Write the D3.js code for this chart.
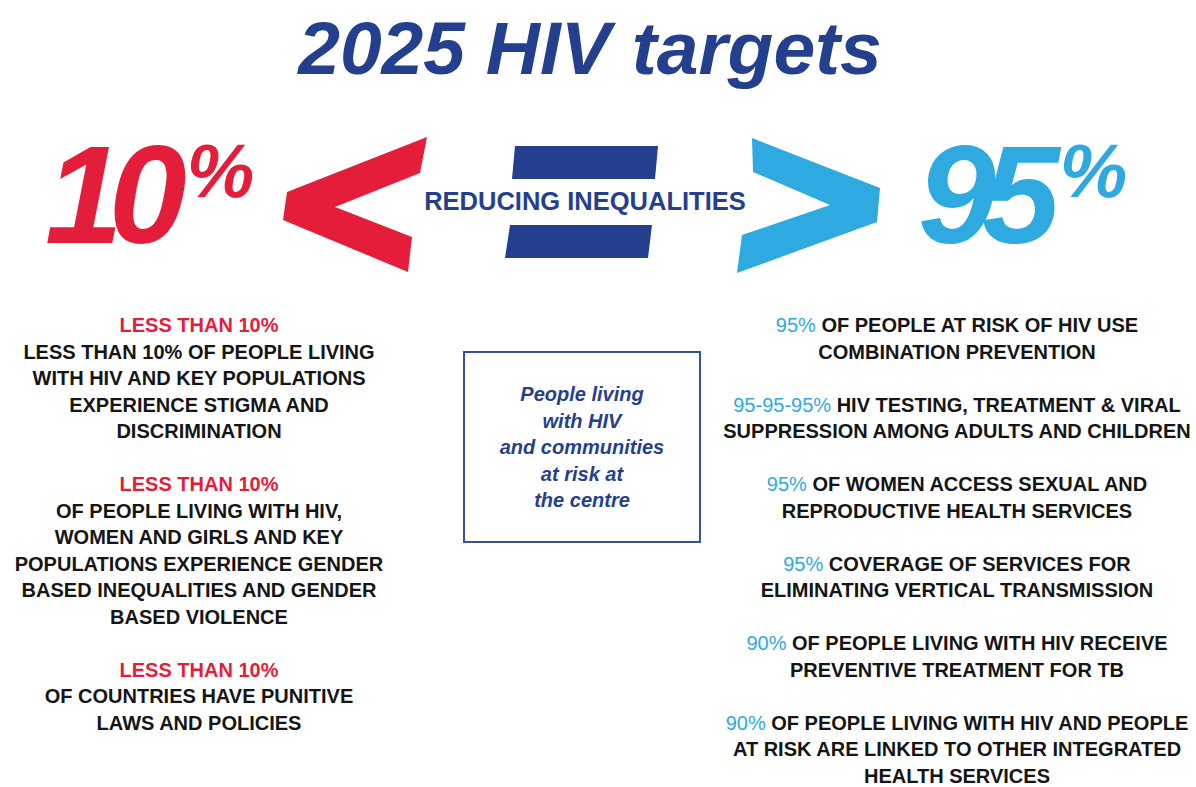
<!DOCTYPE html>
<html>
<head>
<meta charset="utf-8">
<script src="https://cdn.jsdelivr.net/npm/d3@7"></script>
<style>
  html, body { margin: 0; padding: 0; background: #fff; }
  svg { display: block; font-family: "Liberation Sans", Arial, sans-serif; }
</style>
</head>
<body>
<script>
var width = 1196, height = 787;

var navy = "#253f8f", red = "#e41e3a", cyan = "#2eaae1", ink = "#151515";

// headline + the two big numbers
var title = "2025 HIV targets";
var bigNumbers = [
  { value: "10", sign: "%", color: red },
  { value: "95", sign: "%", color: cyan }
];
var centreLabel = "REDUCING INEQUALITIES";
var boxLines = ["People living", "with HIV", "and communities", "at risk at", "the centre"];

// left column: red heading over black lines
var leftHeads = ["LESS THAN 10%", "LESS THAN 10%", "LESS THAN 10%"];
var leftBodies = [
  ["LESS THAN 10% OF PEOPLE LIVING", "WITH HIV AND KEY POPULATIONS", "EXPERIENCE STIGMA AND", "DISCRIMINATION"],
  ["OF PEOPLE LIVING WITH HIV,", "WOMEN AND GIRLS AND KEY", "POPULATIONS EXPERIENCE GENDER", "BASED INEQUALITIES AND GENDER", "BASED VIOLENCE"],
  ["OF COUNTRIES HAVE PUNITIVE", "LAWS AND POLICIES"]
];

// right column: blue figure leads the first line
var rightFigures = ["95%", "95-95-95%", "95%", "95%", "90%", "90%"];
var rightBodies = [
  ["OF PEOPLE AT RISK OF HIV USE", "COMBINATION PREVENTION"],
  ["HIV TESTING, TREATMENT & VIRAL", "SUPPRESSION AMONG ADULTS AND CHILDREN"],
  ["OF WOMEN ACCESS SEXUAL AND", "REPRODUCTIVE HEALTH SERVICES"],
  ["COVERAGE OF SERVICES FOR", "ELIMINATING VERTICAL TRANSMISSION"],
  ["OF PEOPLE LIVING WITH HIV RECEIVE", "PREVENTIVE TREATMENT FOR TB"],
  ["OF PEOPLE LIVING WITH HIV AND PEOPLE", "AT RISK ARE LINKED TO OTHER INTEGRATED", "HEALTH SERVICES"]
];

var svg = d3.select("body").append("svg")
    .attr("width", width)
    .attr("height", height);

svg.append("text")
    .attr("x", 590).attr("y", 74)
    .attr("text-anchor", "middle")
    .attr("font-size", 75).attr("font-weight", 900).attr("font-style", "italic")
    .attr("letter-spacing", 0)
    .attr("fill", navy)
    .text(title);

// big numbers, one on each side
var numX = d3.scalePoint().domain([0, 1]).range([45, 918]);
var big = svg.selectAll(".big").data(bigNumbers).enter()
    .append("text")
    .attr("class", "big")
    .attr("x", function(d, i) { return numX(i); })
    .attr("y", 243)
    .attr("font-weight", 700).attr("font-style", "italic")
    .attr("fill", function(d) { return d.color; });
big.append("tspan")
    .attr("font-size", 140).attr("letter-spacing", -14)
    .text(function(d) { return d.value; });
big.append("tspan")
    .attr("font-size", 76).attr("dx", 14).attr("dy", -46)
    .text(function(d) { return d.sign; });

// chevrons "<" and ">"
var lessThan = [[287,192],[427,137],[420,173],[335,207],[412,237],[408,272],[283,220]];
var moreThan = [[752,138],[880,188],[877,222],[737,273],[742,235],[830,205],[753,172]];
var line = d3.line();
svg.append("path").attr("d", line(lessThan) + "Z").attr("fill", red);
svg.append("path").attr("d", line(moreThan) + "Z").attr("fill", cyan);

// equals sign bars
var bars = [
  [[515,146],[658,146],[655,179],[512,179]],
  [[510,225],[652,225],[648,258],[505,258]]
];
svg.selectAll(".bar").data(bars).enter()
    .append("path")
    .attr("class", "bar")
    .attr("d", function(d) { return line(d) + "Z"; })
    .attr("fill", navy);

svg.append("text")
    .attr("x", 585).attr("y", 210)
    .attr("text-anchor", "middle")
    .attr("font-size", 25.5).attr("font-weight", 700)
    .attr("fill", navy)
    .text(centreLabel);

// centre box
svg.append("rect")
    .attr("x", 464).attr("y", 352)
    .attr("width", 236).attr("height", 190)
    .attr("fill", "none").attr("stroke", "#3b4f9c").attr("stroke-width", 2);

var boxY = d3.scaleLinear().domain([0, boxLines.length - 1]).range([401, 507]);
svg.selectAll(".boxline").data(boxLines).enter()
    .append("text")
    .attr("class", "boxline")
    .attr("x", 582)
    .attr("y", function(d, i) { return boxY(i); })
    .attr("text-anchor", "middle")
    .attr("font-size", 20).attr("font-weight", 700).attr("font-style", "italic")
    .attr("fill", navy)
    .text(function(d) { return d; });

// both columns share one row grid
var rowY = d3.scaleLinear().domain([0, 17]).range([332, 782.5]);

var leftRows = [];
var r = 0;
leftHeads.forEach(function(h, i) {
  leftRows.push({ row: r++, text: h, color: red, weight: 700 });
  leftBodies[i].forEach(function(t) {
    leftRows.push({ row: r++, text: t, color: ink, weight: 700 });
  });
  r++;
});

svg.selectAll(".left").data(leftRows).enter()
    .append("text")
    .attr("class", "left")
    .attr("x", 199)
    .attr("y", function(d) { return rowY(d.row); })
    .attr("text-anchor", "middle")
    .attr("font-size", 20).attr("font-weight", function(d) { return d.weight; })
    .attr("fill", function(d) { return d.color; })
    .text(function(d) { return d.text; });

var rightRows = [];
r = 0;
rightFigures.forEach(function(f, i) {
  rightBodies[i].forEach(function(t, j) {
    rightRows.push({ row: r++, figure: j === 0 ? f : null, text: t });
  });
  r++;
});

var rt = svg.selectAll(".right").data(rightRows).enter()
    .append("text")
    .attr("class", "right")
    .attr("x", 957)
    .attr("y", function(d) { return rowY(d.row); })
    .attr("text-anchor", "middle")
    .attr("font-size", 20).attr("font-weight", 700)
    .attr("fill", ink);
rt.filter(function(d) { return d.figure; })
    .append("tspan")
    .attr("fill", cyan).attr("font-weight", 400)
    .text(function(d) { return d.figure + " "; });
rt.append("tspan")
    .text(function(d) { return d.text; });
</script>
</body>
</html>
